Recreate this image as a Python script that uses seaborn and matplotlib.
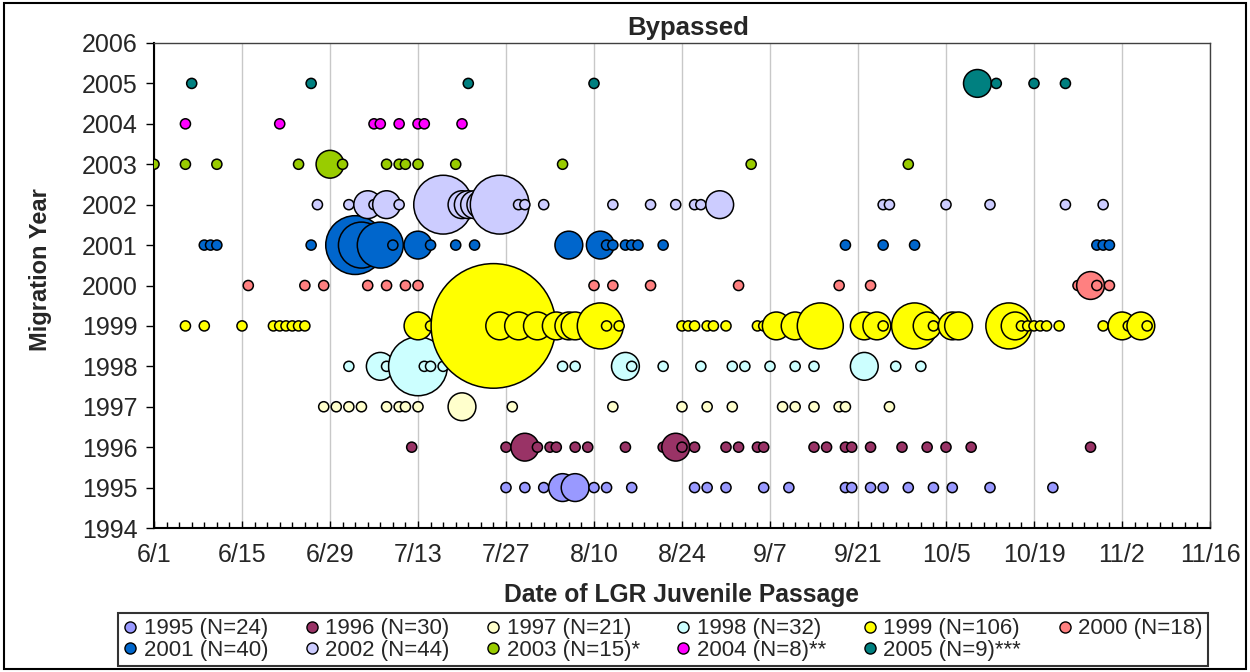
import matplotlib
matplotlib.use("Agg")
import matplotlib.pyplot as plt
from matplotlib.lines import Line2D
from matplotlib.patches import Rectangle
import pandas as pd
import seaborn as sns

# ---- data: passage dates (month/day) and fish per bubble, by migration year ----
years = [1995, 1996, 1997, 1998, 1999, 2000, 2001, 2002, 2003, 2004, 2005]
legend_labels = ["1995 (N=24)", "1996 (N=30)", "1997 (N=21)", "1998 (N=32)",
                 "1999 (N=106)", "2000 (N=18)", "2001 (N=40)", "2002 (N=44)",
                 "2003 (N=15)*", "2004 (N=8)**", "2005 (N=9)***"]
colors = ["#9999FF", "#993366", "#FFFFCC", "#CCFFFF", "#FFFF00", "#FF8080",
          "#0066CC", "#CCCCFF", "#99CC00", "#FF00FF", "#008080"]

dates_1995 = ["7/27", "7/30", "8/2", "8/5", "8/7", "8/10", "8/12", "8/16", "8/26", "8/28",
              "8/31", "9/6", "9/10", "9/19", "9/20", "9/23", "9/25", "9/29", "10/3", "10/6",
              "10/12", "10/22"]
fish_1995 = [1, 1, 1, 2, 2, 1, 1, 1, 1, 1, 1, 1, 1, 1, 1, 1, 1, 1, 1, 1, 1, 1]

dates_1996 = ["7/12", "7/27", "7/30", "8/1", "8/3", "8/4", "8/7", "8/9", "8/15", "8/21",
              "8/23", "8/24", "8/26", "8/31", "9/2", "9/5", "9/6", "9/14", "9/16", "9/19",
              "9/20", "9/23", "9/28", "10/2", "10/5", "10/9", "10/28"]
fish_1996 = [1, 1, 2, 1, 1, 1, 1, 1, 1, 1, 2, 1, 1, 1, 1, 1, 1, 1, 1, 1, 1, 1, 1, 1, 1, 1, 1]

dates_1997 = ["6/28", "6/30", "7/2", "7/4", "7/8", "7/10", "7/11", "7/13", "7/20", "7/28",
              "8/13", "8/24", "8/28", "9/1", "9/9", "9/11", "9/14", "9/18", "9/19", "9/26"]
fish_1997 = [1, 1, 1, 1, 1, 1, 1, 1, 2, 1, 1, 1, 1, 1, 1, 1, 1, 1, 1, 1]

dates_1998 = ["7/2", "7/7", "7/8", "7/13", "7/14", "7/15", "7/17", "8/5", "8/7", "8/15",
              "8/16", "8/21", "8/27", "9/1", "9/3", "9/7", "9/11", "9/14", "9/22", "9/27",
              "10/1"]
fish_1998 = [1, 2, 1, 6, 1, 1, 1, 1, 1, 2, 1, 1, 1, 1, 1, 1, 1, 1, 2, 1, 1]

dates_1999 = ["6/6", "6/9", "6/15", "6/20", "6/21", "6/22", "6/23", "6/24", "6/25", "7/13",
              "7/15", "7/25", "7/25", "7/26", "7/29", "8/1", "8/4", "8/6", "8/7", "8/11",
              "8/12", "8/14", "8/24", "8/25", "8/26", "8/28", "8/29", "8/31", "9/5", "9/6",
              "9/8", "9/11", "9/15", "9/22", "9/24", "9/25", "9/30", "10/2", "10/3", "10/6",
              "10/7", "10/15", "10/16", "10/17", "10/18", "10/19", "10/20", "10/21", "10/23",
              "10/30", "11/2", "11/3", "11/5", "11/6"]
fish_1999 = [1, 1, 1, 1, 1, 1, 1, 1, 1, 2,
             1, 24, 1, 2, 2, 2, 2, 2, 2, 4,
             1, 1, 1, 1, 1, 1, 1, 1, 1, 1,
             2, 2, 4, 2, 2, 1, 4, 2, 1, 2,
             2, 4, 2, 1, 1, 1, 1, 1, 1,
             1, 2, 1, 2, 1]

dates_2000 = ["6/16", "6/25", "6/28", "7/5", "7/8", "7/11", "7/13", "8/10", "8/13", "8/19",
              "9/2", "9/18", "9/23", "10/26", "10/28", "10/29", "10/31"]
fish_2000 = [1, 1, 1, 1, 1, 1, 1, 1, 1, 1, 1, 1, 1, 1, 2, 1, 1]

dates_2001 = ["6/9", "6/10", "6/11", "6/26", "7/3", "7/4", "7/7", "7/9", "7/13", "7/15",
              "7/19", "7/22", "8/6", "8/11", "8/12", "8/13", "8/15", "8/16", "8/17", "8/21",
              "9/19", "9/25", "9/30", "10/29", "10/30", "10/31"]
fish_2001 = [1, 1, 1, 1, 6, 4, 4, 1, 2, 1, 1, 1, 2, 2, 1, 1, 1, 1, 1, 1, 1, 1, 1, 1, 1, 1]

dates_2002 = ["6/27", "7/2", "7/5", "7/6", "7/8", "7/10", "7/17", "7/20", "7/21", "7/22",
              "7/23", "7/26", "7/29", "7/30", "8/2", "8/13", "8/19", "8/23", "8/26", "8/27",
              "8/30", "9/25", "9/26", "10/5", "10/12", "10/24", "10/30"]
fish_2002 = [1, 1, 2, 1, 2, 1, 6, 2, 2, 2, 2, 6, 1, 1, 1, 1, 1, 1, 1, 1, 2, 1, 1, 1, 1, 1, 1]

dates_2003 = ["6/1", "6/6", "6/11", "6/24", "6/29", "7/1", "7/8", "7/10", "7/11", "7/13",
              "7/19", "8/5", "9/4", "9/29"]
fish_2003 = [1, 1, 1, 1, 2, 1, 1, 1, 1, 1, 1, 1, 1, 1]

dates_2004 = ["6/6", "6/21", "7/6", "7/7", "7/10", "7/13", "7/14", "7/20"]
fish_2004 = [1, 1, 1, 1, 1, 1, 1, 1]

dates_2005 = ["6/7", "6/26", "7/21", "8/10", "10/10", "10/13", "10/19", "10/24"]
fish_2005 = [1, 1, 1, 1, 2, 1, 1, 1]

series_dates = [dates_1995, dates_1996, dates_1997, dates_1998, dates_1999, dates_2000,
                dates_2001, dates_2002, dates_2003, dates_2004, dates_2005]
series_fish = [fish_1995, fish_1996, fish_1997, fish_1998, fish_1999, fish_2000,
               fish_2001, fish_2002, fish_2003, fish_2004, fish_2005]

# long table; dates placed on a common calendar year so only month/day matters
rows = []
for yr, ds, ns in zip(years, series_dates, series_fish):
    for md, n in zip(ds, ns):
        m, d = (int(v) for v in md.split("/"))
        rows.append((str(yr), yr, pd.Timestamp(2001, m, d), n))
df = pd.DataFrame(rows, columns=["series", "year", "date", "fish"])

# ---- style ----
sns.set_theme(style="white")
plt.rcParams["font.family"] = ["Liberation Sans", "DejaVu Sans"]

fig = plt.figure(figsize=(12.5, 6.72), dpi=100)
ax = fig.add_axes([154 / 1250, 1 - 528 / 672, 1056 / 1250, 485 / 672])

palette = dict(zip([str(y) for y in years], colors))
sns.scatterplot(data=df, x="date", y="year", hue="series", palette=palette,
                size="fish", sizes=(53, 8050), size_norm=(1, 24),
                edgecolor="black", linewidth=1.1, alpha=1, legend=False, ax=ax, zorder=3)

x0, x1 = pd.Timestamp(2001, 6, 1), pd.Timestamp(2001, 11, 16)
ax.set_xlim(x0, x1)
ax.set_ylim(1994, 2006)

major = pd.date_range(x0, x1, freq="14D")
ax.set_xticks(major)
ax.set_xticklabels([f"{t.month}/{t.day}" for t in major])
ax.set_xticks(pd.date_range(x0, x1, freq="2D"), minor=True)
ax.set_yticks(range(1994, 2007))
ax.set_yticklabels([str(y) for y in range(1994, 2007)])

ax.grid(axis="x", which="major", color="#C8C8C8", linewidth=1.0)
ax.grid(axis="y", visible=False)
ax.set_axisbelow(True)

ax.tick_params(axis="y", which="major", direction="out", length=6, width=1,
               labelsize=18, pad=6, left=True, color="black")
ax.tick_params(axis="x", which="major", direction="in", length=5, width=1,
               labelsize=18, pad=11, bottom=True, color="black")
ax.tick_params(axis="x", which="minor", direction="in", length=4, width=1,
               bottom=True, color="black")

for side in ["left", "bottom"]:
    ax.spines[side].set_color("black")
    ax.spines[side].set_linewidth(1.5)
for side in ["top", "right"]:
    ax.spines[side].set_color("#404040")
    ax.spines[side].set_linewidth(1.0)

ax.set_title("Bypassed", fontsize=18.5, fontweight="bold", pad=6, x=0.506)
ax.set_xlabel("Date of LGR Juvenile Passage", fontsize=17.7, fontweight="bold", labelpad=11)
ax.set_ylabel("Migration Year", fontsize=17, fontweight="bold")
ax.yaxis.set_label_coords(-0.097, 0.532)

# ---- legend: row-major order across six columns ----
handles = [Line2D([], [], marker="o", linestyle="", markersize=8,
                  markerfacecolor=c, markeredgecolor="black", markeredgewidth=1.0)
           for c in colors]
order = [0, 6, 1, 7, 2, 8, 3, 9, 4, 10, 5]
leg = fig.legend([handles[i] for i in order], [legend_labels[i] for i in order],
                 ncol=6, loc="center", mode="expand",
                 bbox_to_anchor=(118 / 1250, 5 / 672, 1090 / 1250, 55 / 672),
                 fontsize=16, frameon=True, fancybox=False, shadow=False,
                 edgecolor="black", handlelength=0.6, handletextpad=0.3,
                 labelspacing=0.02, borderpad=0.25, borderaxespad=0)
leg.get_frame().set_linewidth(1.5)

# chart border
fig.patches.append(Rectangle((4 / 1250, 3 / 672), 1242 / 1250, 666 / 672,
                             transform=fig.transFigure, fill=False,
                             edgecolor="black", linewidth=1.5))

fig.savefig("out.png", dpi=100)
